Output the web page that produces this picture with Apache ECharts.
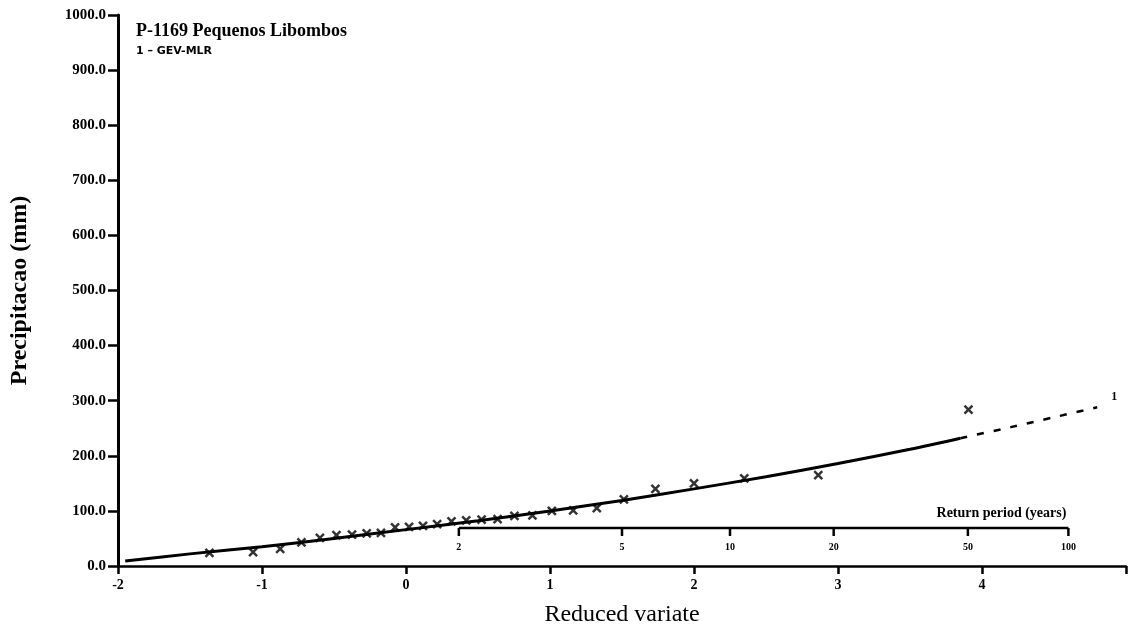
<!DOCTYPE html>
<html>
<head>
<meta charset="utf-8">
<script src="https://cdn.jsdelivr.net/npm/echarts@6/dist/echarts.min.js"></script>
<style>
  html, body { margin: 0; padding: 0; background: #fff; }
  #chart { width: 1129px; height: 632px; }
</style>
</head>
<body>
<div id="chart"></div>
<script>
// Annual maximum rainfall, station P-1169 Pequenos Libombos (mm), plotted against Gumbel reduced variate
const observedVariate = [-1.365, -1.062, -0.874, -0.726, -0.598, -0.483, -0.375, -0.273, -0.174, -0.076,
  0.021, 0.118, 0.216, 0.316, 0.418, 0.525, 0.636, 0.753, 0.878, 1.013,
  1.161, 1.325, 1.513, 1.732, 2.000, 2.349, 2.863, 3.906];
const observedRain = [24, 25, 31, 43, 51, 56, 57, 59, 60, 70,
  71, 73, 76, 81, 83, 84, 85, 91, 92, 100,
  101, 105, 121, 140, 150, 159, 165, 284];

// GEV (maximum likelihood) fitted curve, within the range of the record
const fitVariate = [-1.95, -1.5, -1.0, -0.5, 0, 0.5, 1.0, 1.5, 2.0, 2.5, 3.0, 3.5, 3.85];
const fitRain = [9, 22, 35, 50, 66, 82, 100, 119, 140, 162, 186, 212, 232];

// Extrapolated part of the GEV curve
const extVariate = [3.85, 4.2, 4.5, 4.8];
const extRain = [232, 252, 270, 288];

// Return period scale (years) and the matching reduced variate
const returnPeriods = [2, 5, 10, 20, 50, 100];
const returnPeriodVariate = [0.367, 1.500, 2.250, 2.970, 3.902, 4.600];

const SERIF = '"Liberation Serif", "DejaVu Serif", serif';
const pairs = (xs, ys) => xs.map((x, i) => [x, ys[i]]);

const chart = echarts.init(document.getElementById('chart'), null, { renderer: 'canvas' });

// Secondary axis drawn above the main x axis
const RP_OFFSET = 38;
function renderReturnAxis(params, api) {
  const p = api.coord([api.value(0), 0]);
  const yLine = p[1] - RP_OFFSET;
  const children = [
    { type: 'line', shape: { x1: p[0], y1: yLine, x2: p[0], y2: yLine + 8 },
      style: { stroke: '#000', lineWidth: 2.5 } },
    { type: 'text', x: p[0], y: yLine + 14,
      style: { text: String(returnPeriods[params.dataIndex]), fill: '#000',
        font: 'bold 10px ' + SERIF, align: 'center', verticalAlign: 'top' } }
  ];
  if (params.dataIndex === 0) {
    const a = api.coord([returnPeriodVariate[0], 0]);
    const b = api.coord([returnPeriodVariate[returnPeriodVariate.length - 1], 0]);
    children.push({ type: 'line', shape: { x1: a[0], y1: yLine, x2: b[0], y2: yLine },
      style: { stroke: '#000', lineWidth: 2.5 } });
    children.push({ type: 'text', x: b[0] - 2, y: yLine - 8,
      style: { text: 'Return period (years)', fill: '#000',
        font: 'bold 14px ' + SERIF, align: 'right', verticalAlign: 'bottom' } });
  }
  return { type: 'group', children };
}

chart.setOption({
  animation: false,
  backgroundColor: '#fff',
  title: {
    text: 'P-1169 Pequenos Libombos',
    subtext: '1 \u2013 GEV-MLR',
    left: 131, top: 17, itemGap: 6,
    textStyle: { fontFamily: SERIF, fontWeight: 'bold', fontSize: 18, color: '#000' },
    subtextStyle: { fontFamily: '"DejaVu Sans", sans-serif', fontWeight: 'bold', fontSize: 11, color: '#000' }
  },
  grid: { left: 118, right: 1, top: 15, bottom: 66, containLabel: false },
  xAxis: {
    type: 'value', min: -2, max: 5, interval: 1,
    name: 'Reduced variate', nameLocation: 'middle', nameGap: 37,
    nameTextStyle: { fontFamily: SERIF, fontSize: 24, color: '#000' },
    axisLine: { onZero: false, lineStyle: { color: '#000', width: 2.5 } },
    axisTick: { length: 8, lineStyle: { color: '#000', width: 2.5 } },
    axisLabel: { margin: 12, color: '#000', fontFamily: SERIF, fontWeight: 'bold', fontSize: 14,
      formatter: v => (v >= 5 ? '' : String(v)) },
    splitLine: { show: false }
  },
  yAxis: {
    type: 'value', min: 0, max: 1000, interval: 100,
    name: 'Precipitacao (mm)', nameLocation: 'middle', nameGap: 86, nameRotate: 90,
    nameTextStyle: { fontFamily: SERIF, fontWeight: 'bold', fontSize: 24, color: '#000' },
    axisLine: { show: true, onZero: false, lineStyle: { color: '#000', width: 3 } },
    axisTick: { show: true, length: 10, lineStyle: { color: '#000', width: 2.5 } },
    axisLabel: { margin: 12, color: '#000', fontFamily: SERIF, fontWeight: 'bold', fontSize: 15,
      formatter: v => v.toFixed(1) },
    splitLine: { show: false }
  },
  series: [
    {
      name: 'GEV-MLR', type: 'line', data: pairs(fitVariate, fitRain),
      smooth: 0.3, showSymbol: false, z: 2,
      lineStyle: { color: '#000', width: 3 }
    },
    {
      name: 'GEV-MLR extrapolated', type: 'line', data: pairs(extVariate, extRain),
      smooth: 0.3, showSymbol: false, z: 2,
      lineStyle: { color: '#000', width: 2.5, type: [7, 10] },
      endLabel: { show: true, formatter: '1', offset: [6, -10], color: '#000',
        fontFamily: SERIF, fontWeight: 'bold', fontSize: 12 }
    },
    {
      name: 'Observed', type: 'scatter', data: pairs(observedVariate, observedRain),
      symbol: 'path://M0,0L10,10M10,0L0,10', symbolSize: 8, z: 3,
      itemStyle: { color: 'transparent', borderColor: '#000', borderWidth: 2.5 }
    },
    {
      name: 'Return period', type: 'custom', renderItem: renderReturnAxis,
      data: returnPeriodVariate.map(v => [v, 0]), clip: false, z: 4, silent: true
    }
  ]
});
</script>
</body>
</html>
